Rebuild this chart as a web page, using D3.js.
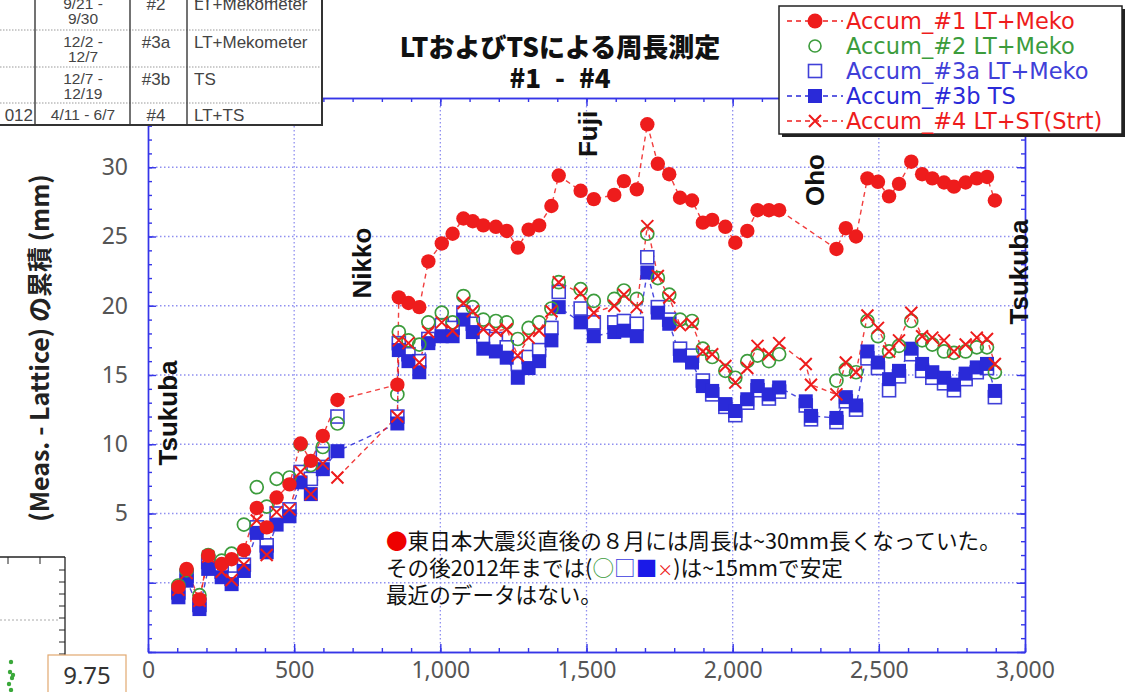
<!DOCTYPE html>
<html><head><meta charset="utf-8">
<script src="https://cdn.jsdelivr.net/npm/d3@7"></script>
<style>body{margin:0;background:#fff}</style>
</head><body><svg id="c" width="1127" height="692"></svg>
<script>
// ---------- data ----------
const distance = [104,132,176,206,252,286,328,372,406,440,484,522,557,598,648,853,858,891,928,959,1005,1042,1079,1111,1147,1190,1227,1265,1302,1338,1380,1405,1480,1525,1595,1628,1672,1708,1744,1783,1820,1861,1898,1930,1975,2009,2050,2085,2124,2159,2250,2268,2355,2387,2422,2461,2497,2535,2569,2611,2648,2683,2723,2757,2797,2835,2870,2897];
const accum1 = [-0.3,1.0,-1.2,1.95,1.35,1.7,2.35,5.4,4.0,6.15,7.1,10.05,8.8,10.6,13.2,14.3,20.6,20.2,19.9,23.2,24.5,25.2,26.3,26.1,25.8,25.7,25.4,24.2,25.5,25.8,27.2,29.4,28.3,27.7,28.0,29.0,28.4,33.1,30.25,29.5,27.8,27.6,26.0,26.2,25.7,24.55,25.4,26.9,26.9,26.9,null,null,24.1,25.6,25.0,29.2,28.95,27.9,28.8,30.4,29.5,29.2,28.9,28.6,28.9,29.2,29.3,27.6];
const accum2 = [-0.2,0.9,-0.9,2.0,1.6,2.1,4.2,6.9,5.5,7.5,7.6,10.0,8.5,9.8,11.5,13.6,18.1,17.5,17.2,18.8,19.5,18.8,20.7,19.9,19.0,18.9,18.8,17.6,18.4,18.8,19.8,21.7,21.2,20.35,20.5,21.1,20.5,25.2,22.0,20.8,19.0,18.9,16.9,16.3,15.3,14.8,16.0,16.4,16.0,16.5,null,null,14.6,15.4,15.2,18.9,17.8,16.7,17.1,18.9,17.5,17.2,16.7,16.6,16.7,17.0,17.0,15.2];
const accum3a = [-0.7,0.5,-1.6,1.5,0.8,0.3,1.3,4.0,2.7,5.0,5.3,8.0,7.5,9.3,12.0,12.0,17.3,16.5,16.0,17.6,18.6,18.4,19.5,18.7,17.8,17.6,17.0,15.8,16.3,16.8,18.4,21.0,19.8,18.8,18.8,18.9,18.7,23.5,19.9,19.0,16.9,16.4,14.6,13.6,12.7,12.1,13.0,13.9,13.3,13.8,12.8,11.8,11.6,13.1,12.5,16.2,15.5,13.9,14.9,16.5,15.3,14.8,14.4,13.9,14.7,15.2,15.5,13.4];
const accum3b = [-1.05,0.15,-1.9,1.0,0.4,-0.1,0.85,3.6,2.2,4.2,4.8,7.25,6.4,8.2,9.5,11.5,16.8,16.0,15.2,17.3,17.8,17.8,19.0,18.1,16.9,16.7,16.25,14.8,15.5,16.0,17.5,19.9,18.8,17.8,18.1,18.2,17.8,22.4,19.5,18.7,16.4,15.9,14.2,13.85,12.9,12.4,13.25,14.2,13.6,14.1,13.1,12.05,11.9,13.4,12.8,16.7,15.9,14.7,15.3,16.9,15.8,15.2,14.8,14.3,15.1,15.55,15.8,13.85];
const accum4 = [-0.5,0.7,-1.3,1.9,0.8,0.2,1.3,4.5,2.0,5.1,5.3,8.0,6.4,8.6,7.6,12.0,17.5,17.3,15.9,18.1,18.8,18.2,20.2,19.6,18.3,18.2,18.3,16.4,17.7,18.2,19.6,21.7,20.9,19.5,20.0,20.8,19.9,25.75,22.15,20.6,18.6,18.7,16.7,16.5,15.65,14.45,15.5,17.1,16.5,17.3,15.8,14.3,13.6,15.9,15.2,19.3,18.4,16.7,17.5,19.5,17.8,17.7,17.5,16.7,17.2,17.7,17.6,15.8];

const xTicks = [0,500,1000,1500,2000,2500,3000];
const yTicks = [5,10,15,20,25,30];
const legendLabels = ["Accum_#1 LT+Meko","Accum_#2 LT+Meko","Accum_#3a LT+Meko","Accum_#3b TS","Accum_#4 LT+ST(Strt)"];
const stationLabels = ["Tsukuba","Nikko","Fuji","Oho","Tsukuba"];
const titleLines = ["LTおよびTSによる周長測定","#1 - #4"];
const yTitle = "(Meas. - Lattice) の累積 (mm)";
const tableDates = [["9/21 -","9/30"],["12/2 -","12/7"],["12/7 -","12/19"],["4/11 - 6/7"]];
const tableIds = ["#2","#3a","#3b","#4"];
const tableMethods = ["LT+Mekometer","LT+Mekometer","TS","LT+TS"];
const noteLine1 = "東日本大震災直後の８月には周長は~30mm長くなっていた。";
const noteLine2a = "その後2012年までは(";
const noteLine2b = ")は~15mmで安定";
const noteLine3 = "最近のデータはない。";

// ---------- setup ----------
const svg = d3.select("#c");
const x = d3.scaleLinear().domain([0,3000]).range([148,1025]);
const y = d3.scaleLinear().domain([-5,35]).range([652,98]);
const axisBlue = "#3535e8";
const gridCol = "#8f8ff0";
const RED = "#ee1c1c", GREEN = "#3c9c3c", BLUE = "#2a2ad8", BLUE2 = "#4040d8";

// grid
const grid = svg.append("g");
grid.selectAll("line.v").data(xTicks.slice(1,-1)).join("line")
  .attr("x1",d=>x(d)).attr("x2",d=>x(d)).attr("y1",y(35)).attr("y2",y(-5))
  .attr("stroke",gridCol).attr("stroke-width",1.3).attr("stroke-dasharray","1.5,2.5");
grid.selectAll("line.h").data(d3.range(0,31,5)).join("line")
  .attr("y1",d=>y(d)).attr("y2",d=>y(d)).attr("x1",x(0)).attr("x2",x(3000))
  .attr("stroke",gridCol).attr("stroke-width",1.3).attr("stroke-dasharray","1.5,2.5");

// frame axes with inward ticks
function styleAxis(g){ g.selectAll("path,line").attr("stroke",axisBlue).attr("stroke-width",1.4); g.selectAll("text").remove(); }
const minorX = d3.range(0,3001,100), majorX = d3.range(0,3001,500);
const minorY = d3.range(-5,36,1), majorY = d3.range(-5,36,5);
svg.append("g").attr("transform",`translate(0,${y(-5)})`).call(d3.axisBottom(x).tickValues(minorX).tickSize(-4).tickSizeOuter(0)).call(styleAxis);
svg.append("g").attr("transform",`translate(0,${y(-5)})`).call(d3.axisBottom(x).tickValues(majorX).tickSize(-8).tickSizeOuter(0)).call(styleAxis);
svg.append("g").attr("transform",`translate(0,${y(35)})`).call(d3.axisTop(x).tickValues(minorX).tickSize(-4).tickSizeOuter(0)).call(styleAxis);
svg.append("g").attr("transform",`translate(0,${y(35)})`).call(d3.axisTop(x).tickValues(majorX).tickSize(-8).tickSizeOuter(0)).call(styleAxis);
svg.append("g").attr("transform",`translate(${x(0)},0)`).call(d3.axisLeft(y).tickValues(minorY).tickSize(-4).tickSizeOuter(0)).call(styleAxis);
svg.append("g").attr("transform",`translate(${x(0)},0)`).call(d3.axisLeft(y).tickValues(majorY).tickSize(-8).tickSizeOuter(0)).call(styleAxis);
svg.append("g").attr("transform",`translate(${x(3000)},0)`).call(d3.axisRight(y).tickValues(minorY).tickSize(-4).tickSizeOuter(0)).call(styleAxis);
svg.append("g").attr("transform",`translate(${x(3000)},0)`).call(d3.axisRight(y).tickValues(majorY).tickSize(-8).tickSizeOuter(0)).call(styleAxis);

// tick labels
const labFont = "'Noto Sans', 'DejaVu Sans', sans-serif";
const xl = svg.append("g").attr("transform",`translate(0,${y(-5)})`)
  .call(d3.axisBottom(x).tickValues(xTicks).tickSize(0).tickPadding(10).tickFormat(d3.format(",")));
xl.select(".domain").remove();
xl.selectAll("text").attr("font-family",labFont).attr("font-size",23).attr("fill","#555");
const yl = svg.append("g").attr("transform",`translate(${x(0)},0)`)
  .call(d3.axisLeft(y).tickValues(yTicks).tickSize(0).tickPadding(20));
yl.select(".domain").remove();
yl.selectAll("text").attr("font-family",labFont).attr("font-size",23).attr("fill","#555");

// ---------- series ----------
const pts = vals => distance.map((d,i)=>({x:d,y:vals[i]})).filter(p=>p.y!=null);
const lineGen = d3.line().x(p=>x(p.x)).y(p=>y(p.y));
const lines = [[accum3b,BLUE],[accum4,RED],[accum1,RED]];
lines.forEach(([v,c])=>{
  svg.append("path").attr("d",lineGen(pts(v))).attr("fill","none")
    .attr("stroke",c).attr("stroke-width",1.4).attr("stroke-dasharray","5,4").attr("opacity",0.85);
});
svg.append("g").selectAll("rect").data(pts(accum3a)).join("rect")
  .attr("x",p=>x(p.x)-6.5).attr("y",p=>y(p.y)-6.5).attr("width",13).attr("height",13)
  .attr("fill","#fff").attr("stroke",BLUE2).attr("stroke-width",1.6);
svg.append("g").selectAll("rect").data(pts(accum3b)).join("rect")
  .attr("x",p=>x(p.x)-7).attr("y",p=>y(p.y)-7).attr("width",14).attr("height",14)
  .attr("fill",BLUE);
svg.append("g").selectAll("circle").data(pts(accum2)).join("circle")
  .attr("cx",p=>x(p.x)).attr("cy",p=>y(p.y)).attr("r",6.5)
  .attr("fill","none").attr("stroke",GREEN).attr("stroke-width",1.7);
svg.append("g").selectAll("path").data(pts(accum4)).join("path")
  .attr("transform",p=>`translate(${x(p.x)},${y(p.y)})`)
  .attr("d","M-6,-6L6,6M-6,6L6,-6").attr("stroke",RED).attr("stroke-width",2).attr("fill","none");
svg.append("g").selectAll("circle").data(pts(accum1)).join("circle")
  .attr("cx",p=>x(p.x)).attr("cy",p=>y(p.y)).attr("r",7.2).attr("fill",RED);

// ---------- station labels ----------
const stPos = [[168,413],[362,263],[588,134],[815,180],[1019,272]];
svg.append("g").selectAll("text").data(stationLabels).join("text")
  .attr("transform",(d,i)=>`translate(${stPos[i][0]+9},${stPos[i][1]}) rotate(-90)`)
  .attr("text-anchor","middle").attr("font-family","'Liberation Sans', Arial, sans-serif")
  .attr("font-weight","bold").attr("font-size",26).attr("fill","#111").text(d=>d);

// ---------- titles ----------
svg.append("g").selectAll("text").data(titleLines).join("text")
  .attr("x",560).attr("y",(d,i)=>57+i*31).attr("text-anchor","middle")
  .attr("font-family","'Noto Sans CJK JP', sans-serif").attr("font-weight","900")
  .attr("word-spacing",(d,i)=>i===1?8:0)
  .attr("font-size",26).attr("fill","#111").text(d=>d);
svg.append("text").attr("transform","translate(49,348) rotate(-90)").attr("text-anchor","middle")
  .attr("font-family","'Noto Sans CJK JP', sans-serif").attr("font-weight","bold")
  .attr("font-size",25).attr("fill","#222").text(yTitle);

// ---------- note ----------
const noteFont = "'Noto Sans CJK JP', sans-serif";
const note = svg.append("g").attr("font-family",noteFont).attr("font-size",21.6).attr("fill","#111");
const t1 = note.append("text").attr("x",386).attr("y",549);
t1.append("tspan").attr("fill","#ee0000").text("●");
t1.append("tspan").text(noteLine1);
const t2 = note.append("text").attr("x",386).attr("y",576);
t2.append("tspan").text(noteLine2a);
t2.append("tspan").attr("fill","#3c9c3c").text("○");
t2.append("tspan").attr("fill","#3a3ae0").text("□");
t2.append("tspan").attr("fill","#1a1ae8").text("■");
t2.append("tspan").attr("fill","#ee2020").attr("font-size",16).text("×");
t2.append("tspan").text(noteLine2b);
note.append("text").attr("x",386).attr("y",603).text(noteLine3);

// ---------- legend ----------
const lg = svg.append("g");
const LX = 779, LW = 343;
lg.append("rect").attr("x",LX+3).attr("y",9).attr("width",LW).attr("height",128).attr("fill","#222");
lg.append("rect").attr("x",LX).attr("y",6).attr("width",LW).attr("height",128).attr("fill","#fff").attr("stroke","#222").attr("stroke-width",1.5);
const legCols = [RED,GREEN,BLUE2,BLUE,RED];
const legDash = [true,false,false,true,true];
const rowY = i => 21 + i*25;
legendLabels.forEach((lab,i)=>{
  const cy = rowY(i), cx = 815;
  if(legDash[i]) lg.append("line").attr("x1",787).attr("x2",843).attr("y1",cy).attr("y2",cy)
     .attr("stroke",legCols[i]).attr("stroke-width",1.5).attr("stroke-dasharray","5,4");
  if(i===0) lg.append("circle").attr("cx",cx).attr("cy",cy).attr("r",7.5).attr("fill",RED);
  if(i===1) lg.append("circle").attr("cx",cx).attr("cy",cy).attr("r",6).attr("fill","#fff").attr("stroke",GREEN).attr("stroke-width",1.6);
  if(i===2) lg.append("rect").attr("x",cx-6.5).attr("y",cy-6.5).attr("width",13).attr("height",13).attr("fill","#fff").attr("stroke",BLUE2).attr("stroke-width",1.6);
  if(i===3) lg.append("rect").attr("x",cx-7).attr("y",cy-7).attr("width",14).attr("height",14).attr("fill",BLUE);
  if(i===4) lg.append("path").attr("transform",`translate(${cx},${cy})`).attr("d","M-6,-6L6,6M-6,6L6,-6").attr("stroke",RED).attr("stroke-width",2);
  lg.append("text").attr("x",846).attr("y",cy+7.5).attr("font-family","'DejaVu Sans', sans-serif").attr("font-size",22.5)
    .attr("fill",legCols[i]).text(lab);
});

// ---------- table overlay (top-left) ----------
const tb = svg.append("g").attr("font-family","'Liberation Sans', Arial, sans-serif").attr("font-size",17).attr("fill","#444");
tb.append("rect").attr("x",0).attr("y",0).attr("width",322).attr("height",125).attr("fill","#fff");
const rowTop = [-8,30,67,103];
[30,67,103].forEach(v=>tb.append("line").attr("x1",0).attr("x2",322).attr("y1",v).attr("y2",v).attr("stroke","#999").attr("stroke-dasharray","1.5,1.5"));
[35,130,187].forEach(v=>tb.append("line").attr("x1",v).attr("x2",v).attr("y1",0).attr("y2",125).attr("stroke","#444").attr("stroke-width",1.5));
tb.append("line").attr("x1",0).attr("x2",323).attr("y1",125).attr("y2",125).attr("stroke","#333").attr("stroke-width",2);
tb.append("line").attr("x1",322).attr("x2",322).attr("y1",0).attr("y2",126).attr("stroke","#333").attr("stroke-width",2);
tableDates.forEach((lines,i)=>{
  lines.forEach((t,j)=>tb.append("text").attr("x",83).attr("y",rowTop[i]+17+j*15).attr("text-anchor","middle").attr("font-size",15.5).text(t));
  tb.append("text").attr("x",156).attr("y",rowTop[i]+18).attr("text-anchor","middle").text(tableIds[i]);
  tb.append("text").attr("x",194).attr("y",rowTop[i]+18).text(tableMethods[i]);
});
tb.append("text").attr("x",33).attr("y",121).attr("text-anchor","end").text("012");
tb.append("text").attr("x",194).attr("y",2).text("LT+Mekometer");

// ---------- bottom-left fragment of another chart ----------
const fr = svg.append("g");
fr.append("line").attr("x1",0).attr("x2",65).attr("y1",557).attr("y2",557).attr("stroke","#222").attr("stroke-width",1.3);
fr.append("line").attr("x1",65).attr("x2",65).attr("y1",557).attr("y2",660).attr("stroke","#222").attr("stroke-width",1.3);
[8,40].forEach(v=>fr.append("line").attr("x1",v).attr("x2",v).attr("y1",557).attr("y2",564).attr("stroke","#222"));
d3.range(570,660,12).forEach(v=>fr.append("line").attr("x1",59).attr("x2",65).attr("y1",v).attr("y2",v).attr("stroke","#222"));
fr.append("line").attr("x1",0).attr("x2",58).attr("y1",620).attr("y2",620).attr("stroke","#aaa").attr("stroke-dasharray","2,2");
[[11,662],[10,672],[12,678],[9,684],[11,690],[13,675]].forEach(p=>fr.append("circle").attr("cx",p[0]).attr("cy",p[1]).attr("r",2.2).attr("fill","#3aa83a"));
fr.append("rect").attr("x",48).attr("y",655).attr("width",78).attr("height",40).attr("fill","#fff").attr("stroke","#e2a870").attr("stroke-width",1.2);
fr.append("text").attr("x",87).attr("y",684).attr("text-anchor","middle").attr("font-family",labFont).attr("font-size",24).attr("fill","#333").text("9.75");
</script></body></html>
